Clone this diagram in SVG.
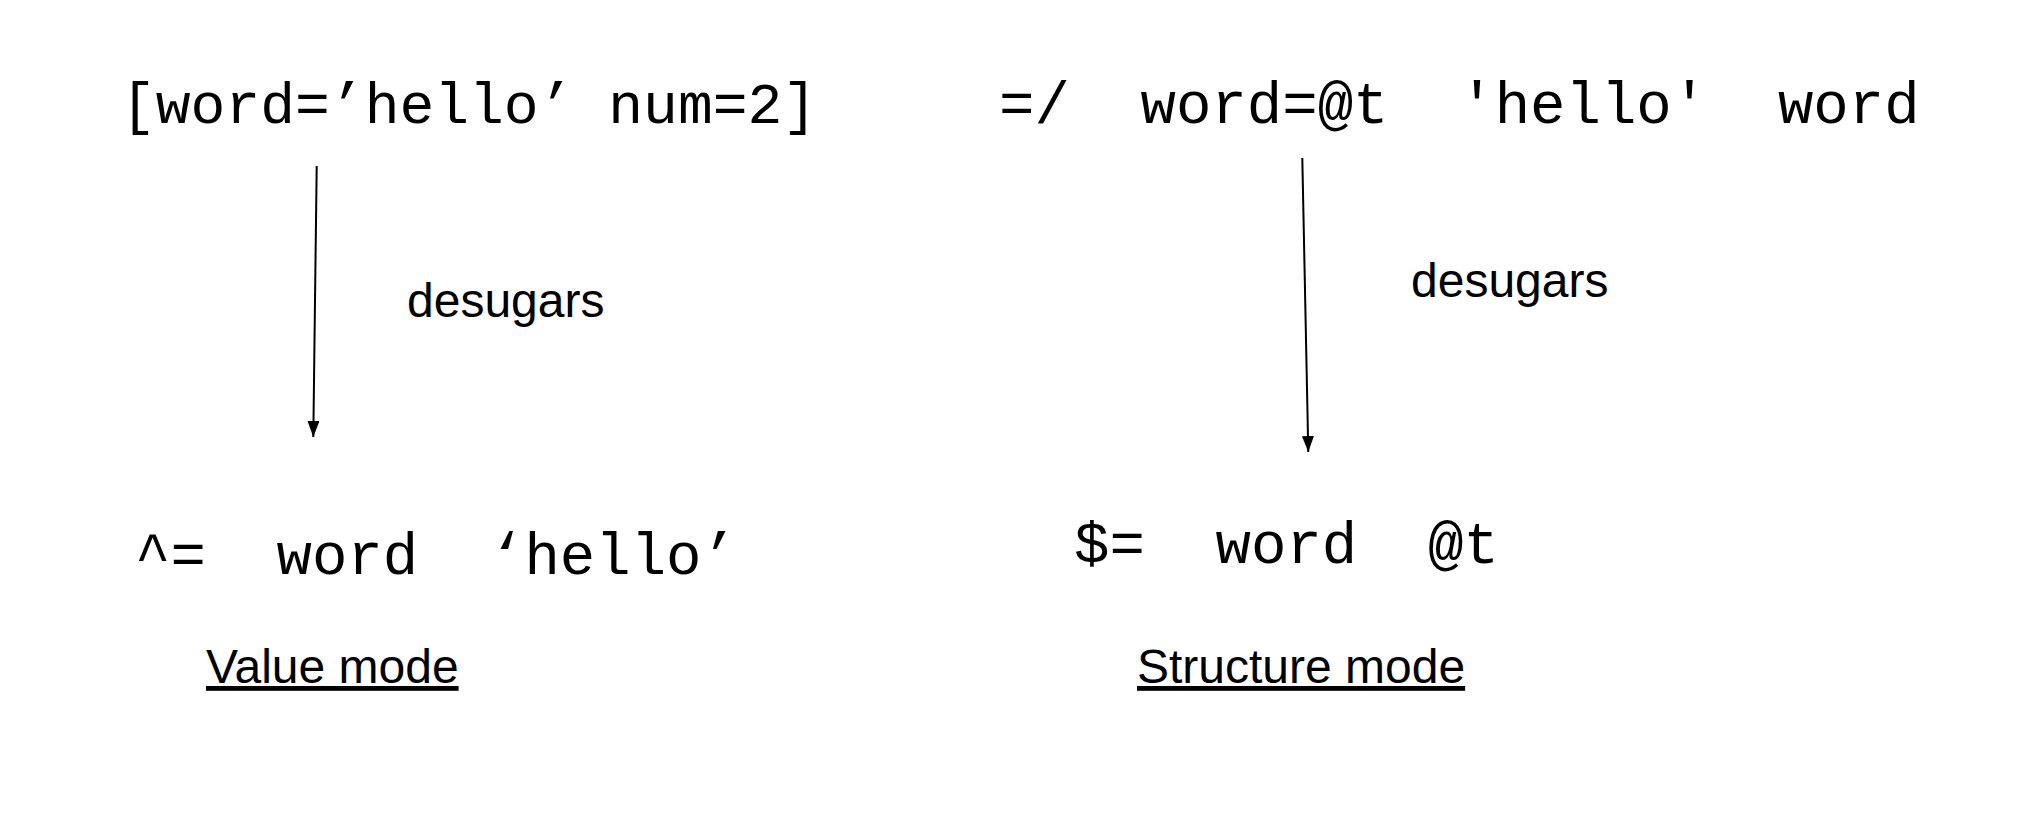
<svg xmlns="http://www.w3.org/2000/svg" width="2022" height="820" viewBox="0 0 2022 820">
<style>
.code{font-family:"Liberation Mono","Courier New",monospace;font-size:59px;fill:#000;white-space:pre}
.lbl{font-family:"Liberation Sans",Arial,sans-serif;font-size:48px;fill:#000}
.mode{font-family:"Liberation Sans",Arial,sans-serif;font-size:48px;fill:#000;text-decoration:underline}
.conn{stroke:#000;stroke-width:2;fill:none}
</style>
<defs>
<marker id="ah" viewBox="0 0 16 12" refX="16" refY="6" markerWidth="16" markerHeight="12" markerUnits="userSpaceOnUse" orient="auto">
<path d="M0,0 L16,6 L0,12 Z" fill="#000"/>
</marker>
</defs>
<rect width="2022" height="820" fill="#fff"/>
<g id="value-source"><text class="code" x="121" y="123" style="font-size:58px" xml:space="preserve">[word=’hello’ num=2]</text></g>
<g id="structure-source"><text class="code" x="999" y="123" xml:space="preserve">=/  word=@t  'hello'  word</text></g>
<g id="value-result"><text class="code" x="135" y="574" xml:space="preserve">^=  word  ‘hello’</text></g>
<g id="structure-result"><text class="code" x="1074" y="563" xml:space="preserve">$=  word  @t</text></g>
<g id="value-title"><text class="mode" x="206" y="683">Value mode</text></g>
<g id="structure-title"><text class="mode" x="1137" y="683">Structure mode</text></g>
<g id="connectors">
<line class="conn" x1="316.7" y1="166" x2="313.3" y2="437" marker-end="url(#ah)"/>
<text class="lbl" x="407" y="317">desugars</text>
<line class="conn" x1="1302.3" y1="158" x2="1308.3" y2="452" marker-end="url(#ah)"/>
<text class="lbl" x="1411" y="297">desugars</text>
</g>
</svg>
